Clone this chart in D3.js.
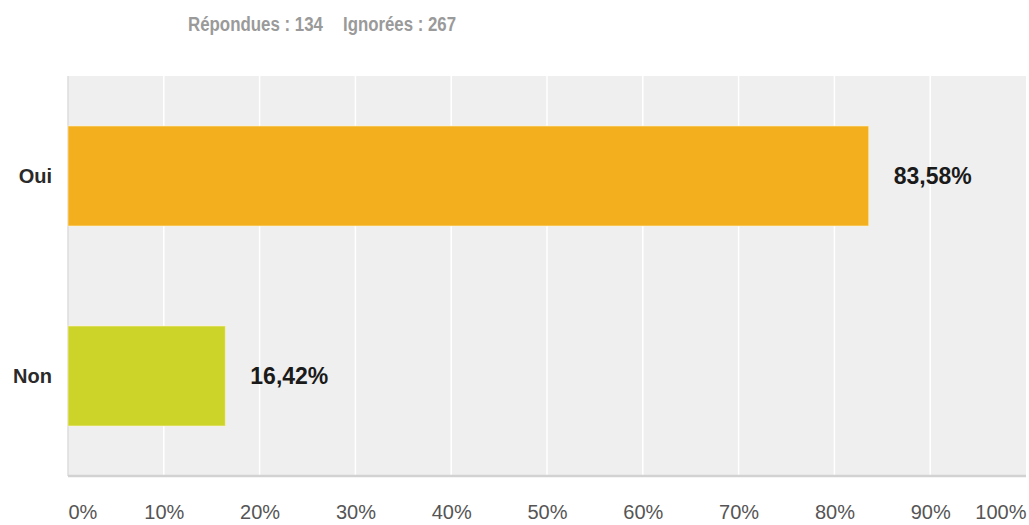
<!DOCTYPE html>
<html>
<head>
<meta charset="utf-8">
<script src="https://cdn.jsdelivr.net/npm/d3@7"></script>
<style>
  html, body { margin: 0; padding: 0; background: #fff; }
  svg { display: block; }
</style>
</head>
<body>
<svg id="chart" width="1029" height="525"></svg>
<script>
const categories = ["Oui", "Non"];
const values = [83.58, 16.42];
const barColors = ["#f4af1e", "#ccd42a"];
const tickValues = [0, 10, 20, 30, 40, 50, 60, 70, 80, 90, 100];
const tickLabels = ["0%", "10%", "20%", "30%", "40%", "50%", "60%", "70%", "80%", "90%", "100%"];
const answeredLabel = "Répondues : 134";
const skippedLabel = "Ignorées : 267";

const W = 1029, H = 525;
const margin = { left: 68, right: 3, top: 76, bottom: 49 };
const svg = d3.select("#chart");
const font = "'Liberation Sans', Arial, sans-serif";

const x = d3.scaleLinear().domain([0, 100]).range([margin.left, W - margin.right]);
const y = d3.scaleBand().domain(categories).range([margin.top, H - margin.bottom])
  .paddingInner(0.5).paddingOuter(0.25);

const fr = d3.formatLocale({ decimal: ",", thousands: " ", grouping: [3], currency: ["", "€"] });
const fmt = v => fr.format(".2f")(v) + "%";

// plot background
svg.append("rect")
  .attr("x", x(0)).attr("y", margin.top)
  .attr("width", x(100) - x(0)).attr("height", H - margin.bottom - margin.top)
  .attr("fill", "#efefef");

// gridlines
svg.append("g").selectAll("line").data(tickValues.slice(1, -1)).join("line")
  .attr("x1", d => x(d)).attr("x2", d => x(d))
  .attr("y1", margin.top).attr("y2", H - margin.bottom)
  .attr("stroke", "#ffffff").attr("stroke-width", 1.5);

// left and bottom borders
svg.append("line")
  .attr("x1", x(0)).attr("x2", x(0))
  .attr("y1", margin.top).attr("y2", H - margin.bottom)
  .attr("stroke", "#dcdcdc").attr("stroke-width", 1.5);
svg.append("line")
  .attr("x1", x(0)).attr("x2", x(100))
  .attr("y1", H - margin.bottom).attr("y2", H - margin.bottom)
  .attr("stroke", "#d2d2d2").attr("stroke-width", 2.5);

// bars
svg.append("g").selectAll("rect").data(categories).join("rect")
  .attr("x", x(0))
  .attr("y", d => y(d))
  .attr("width", (d, i) => x(values[i]) - x(0))
  .attr("height", y.bandwidth())
  .attr("fill", (d, i) => barColors[i])
  .attr("stroke", "#fff3c8").attr("stroke-opacity", 0.6).attr("stroke-width", 1);

// value labels
svg.append("g").selectAll("text").data(categories).join("text")
  .attr("x", (d, i) => x(values[i]) + 25)
  .attr("y", d => y(d) + y.bandwidth() / 2)
  .attr("dy", "0.36em")
  .attr("font-family", font).attr("font-weight", "bold").attr("font-size", 23)
  .attr("fill", "#1a1a1a")
  .text((d, i) => fmt(values[i]));

// category labels
svg.append("g").selectAll("text").data(categories).join("text")
  .attr("x", 52)
  .attr("y", d => y(d) + y.bandwidth() / 2)
  .attr("dy", "0.36em")
  .attr("text-anchor", "end")
  .attr("font-family", font).attr("font-weight", "bold").attr("font-size", 20)
  .attr("fill", "#2a2a2a")
  .text(d => d);

// x axis labels
const xAxis = d3.axisBottom(x).tickValues(tickValues)
  .tickFormat((d, i) => tickLabels[i]).tickSize(0).tickPadding(0);
const gx = svg.append("g").attr("transform", `translate(0, 505)`).call(xAxis);
gx.select(".domain").remove();
gx.selectAll("text")
  .attr("font-family", font).attr("font-size", 20).attr("fill", "#555")
  .attr("dy", "0.71em")
  .attr("text-anchor", (d, i) => i === 0 ? "start" : (i === tickValues.length - 1 ? "end" : "middle"));

// header
const hdr = svg.append("g").attr("font-family", font).attr("font-weight", "bold")
  .attr("font-size", 20).attr("fill", "#9a9a9a");
hdr.append("text").attr("x", 188).attr("y", 31)
  .attr("textLength", 135).attr("lengthAdjust", "spacingAndGlyphs").text(answeredLabel);
hdr.append("text").attr("x", 343).attr("y", 31)
  .attr("textLength", 113).attr("lengthAdjust", "spacingAndGlyphs").text(skippedLabel);
</script>
</body>
</html>
